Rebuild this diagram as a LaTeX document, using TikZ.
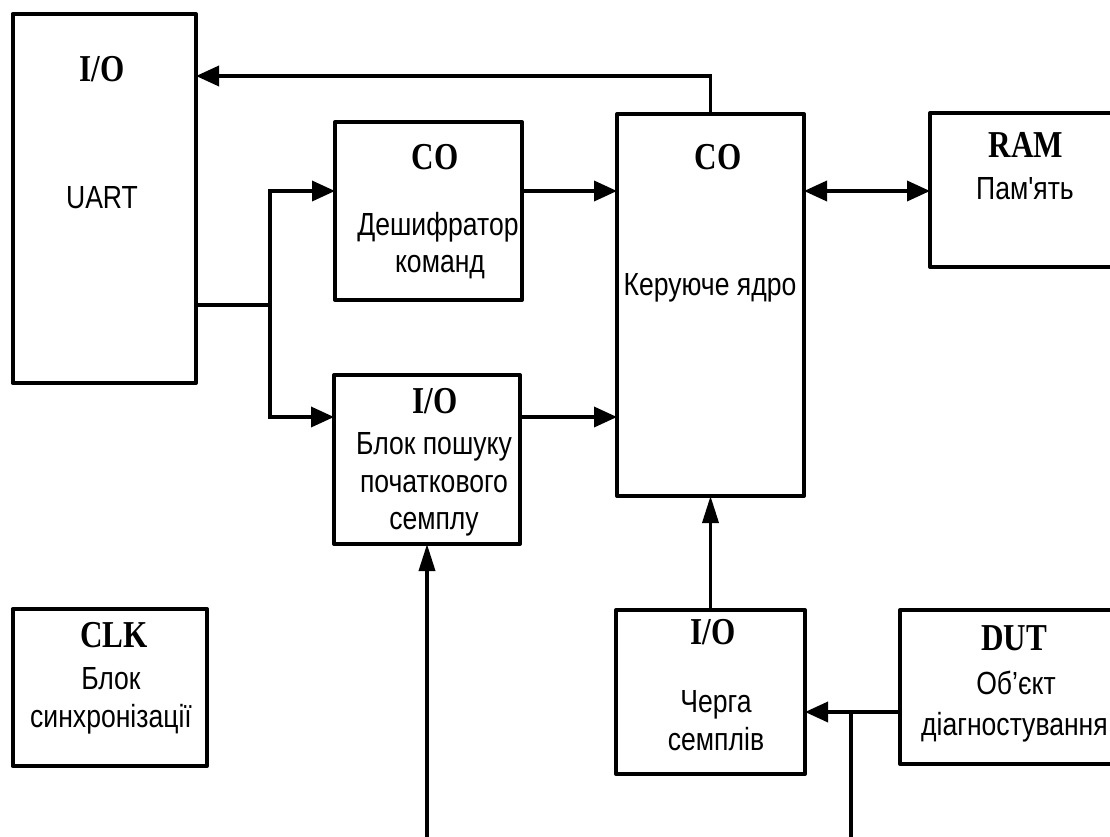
\documentclass[tikz,border=0pt]{standalone}
\usepackage{fontspec}
\setmainfont{Liberation Sans}
\newfontfamily\bodyf[FakeStretch=0.83,Ligatures=TeXOff]{Liberation Sans}
\newfontfamily\headf[FakeStretch=0.82]{Liberation Serif}
\usetikzlibrary{arrows.meta}
\begin{document}
\begin{tikzpicture}[x=1pt,y=-1pt,
  box/.style={draw, line width=4pt, fill=white, inner sep=0pt, outer sep=0pt, line join=round},
  conn/.style={line width=3.6pt},
  harr/.style={conn, -{Triangle[length=23pt,width=20pt]}},
  varr/.style={conn, -{Triangle[length=27pt,width=16pt]}},
  both/.style={conn, {Triangle[length=23pt,width=20pt]}-{Triangle[length=23pt,width=20pt]}},
  hd/.style={font=\headf\bfseries\fontsize{38}{40}\selectfont, inner sep=0pt, anchor=base},
  bd/.style={font=\bodyf\fontsize{32}{36}\selectfont, inner sep=0pt, anchor=base}]
\useasboundingbox (0,0) rectangle (1110,837);
\fill[white] (0,0) rectangle (1110,837);
\clip (0,0) rectangle (1110,837);

% boxes
\node[box, minimum width=183.5pt, minimum height=369pt] (uart) at (104.25,198.5) {};
\node[box, minimum width=187pt, minimum height=178pt] (dec) at (428.5,211) {};
\node[box, minimum width=186pt, minimum height=169pt] (search) at (427,459.5) {};
\node[box, minimum width=187pt, minimum height=382pt] (core) at (710.5,305) {};
\node[box, minimum width=200pt, minimum height=154pt] (ram) at (1030,190) {};
\node[box, minimum width=194.5pt, minimum height=157pt] (clk) at (109.75,687.5) {};
\node[box, minimum width=189pt, minimum height=164pt] (queue) at (710.5,692) {};
\node[box, minimum width=230pt, minimum height=154pt] (dut) at (1015,687) {};

% texts
\node[hd] (uartH) at (102,82) {I/O};
\node[bd] (uartT) at (102,208) {UART};
\node[hd] (decH) at (435,170) {CO};
\node[bd] (decT1) at (438,235) {Дешифратор};
\node[bd] (decT2) at (440,272) {команд};
\node[hd] (searchH) at (435,413) {I/O};
\node[bd] (searchT1) at (434,454) {Блок пошуку};
\node[bd] (searchT2) at (434,492) {початкового};
\node[bd] (searchT3) at (434,529) {семплу};
\node[hd] (coreH) at (718,170) {CO};
\node[bd] (coreT) at (710,295) {Керуюче ядро};
\node[hd] (ramH) at (1026,158) {RAM};
\node[bd] (ramT) at (1025,200) {Пам'ять};
\node[hd] (clkH) at (114,647) {CLK};
\node[bd] (clkT1) at (111,689) {Блок};
\node[bd] (clkT2) at (111,727) {синхронізації};
\node[hd] (queueH) at (713,644) {I/O};
\node[bd] (queueT1) at (716,712) {Черга};
\node[bd] (queueT2) at (716,750) {семплів};
\node[hd] (dutH) at (1014,650) {DUT};
\node[bd] (dutT1) at (1016,694) {Об’єкт};
\node[bd, anchor=base west] (dutT2) at (921,735) {діагностування};

% connectors
\coordinate (j1) at (270,305);
\coordinate (j2) at (851,712);
\coordinate (b1) at (427,837);
\coordinate (b2) at (851,837);

\draw[harr] (core.north) |- (uart.east |- 0,76);
\draw[conn] (uart.east |- j1) -- (j1);
\draw[harr] (j1) |- (dec.west |- 0,191);
\draw[harr] (j1) |- (search.west |- 0,417);
\draw[harr] (dec.east |- 0,191) -- (core.west |- 0,191);
\draw[harr] (search.east |- 0,417) -- (core.west |- 0,417);
\draw[both] (core.east |- 0,191) -- (ram.west |- 0,191);
\draw[varr] (queue.north) -- (core.south);
\draw[harr] (dut.west |- j2) -- (queue.east |- j2);
\draw[conn] (j2) -- (b2);
\draw[varr] (b1) -- (search.south);
\end{tikzpicture}
\end{document}
